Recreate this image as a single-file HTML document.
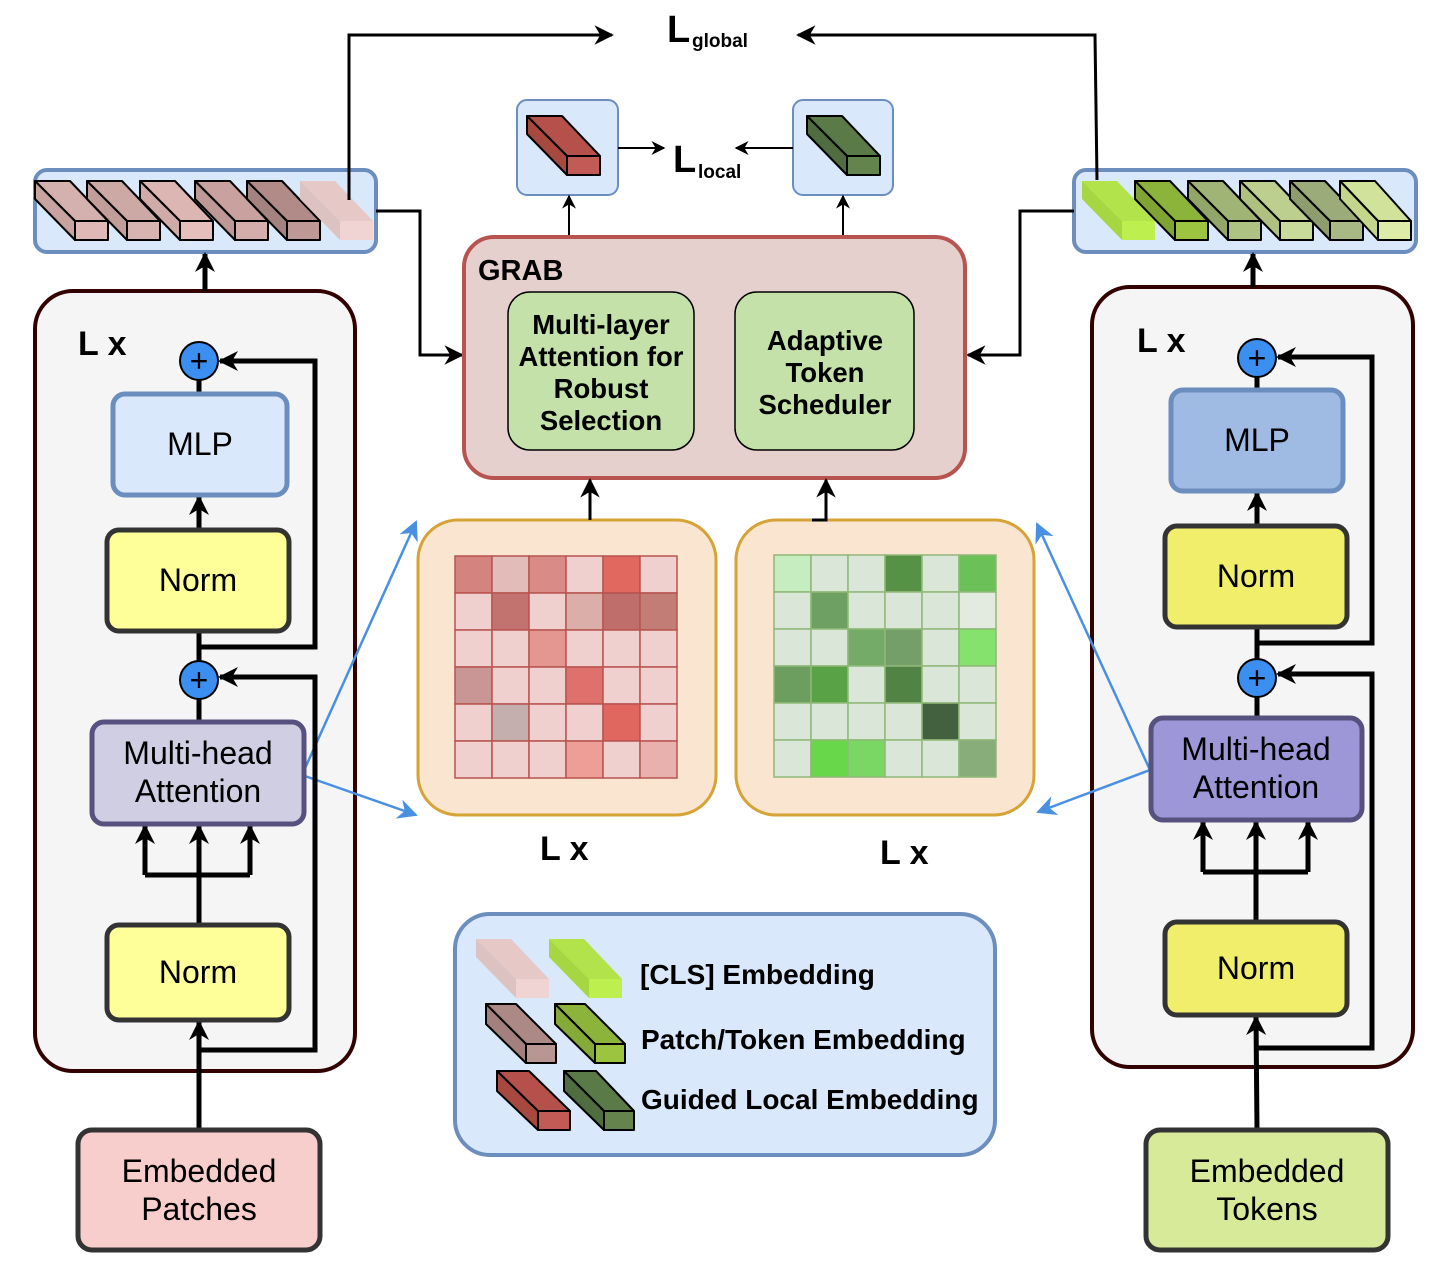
<!DOCTYPE html>
<html><head><meta charset="utf-8"><style>
html,body{margin:0;padding:0;background:#fff;}
svg{display:block;}
text{font-family:"Liberation Sans",sans-serif;}
</style></head><body>
<svg width="1450" height="1280" viewBox="0 0 1450 1280" xmlns="http://www.w3.org/2000/svg">
<defs>
<marker id="ah" viewBox="0 0 10 10" refX="9" refY="5" markerWidth="7" markerHeight="7" orient="auto-start-reverse" markerUnits="strokeWidth"><path d="M0,0 L10,5 L0,10 L3,5 z" fill="#000"/></marker>
<marker id="ah2" viewBox="0 0 10 10" refX="9" refY="5" markerWidth="4" markerHeight="4" orient="auto" markerUnits="strokeWidth"><path d="M0,0 L10,5 L0,10 L3,5 z" fill="#000"/></marker>
<marker id="ah3" viewBox="0 0 10 10" refX="9" refY="5" markerWidth="6.5" markerHeight="6.5" orient="auto" markerUnits="strokeWidth"><path d="M0,0 L10,5 L0,10 L3,5 z" fill="#000"/></marker>
<marker id="bh" viewBox="0 0 10 10" refX="9" refY="5" markerWidth="8" markerHeight="8" orient="auto" markerUnits="strokeWidth"><path d="M0,0 L10,5 L0,10 L3,5 z" fill="#4a90e2"/></marker>
</defs>

<!-- encoders containers -->
<rect x="35" y="291" width="320" height="780" rx="38" fill="#f5f5f5" stroke="#330000" stroke-width="4"/>
<rect x="1092" y="287" width="321" height="780" rx="38" fill="#f5f5f5" stroke="#330000" stroke-width="4"/>

<!-- left bar -->
<rect x="35" y="170" width="341" height="82" rx="12" fill="#dae8fc" stroke="#6c8ebf" stroke-width="4"/>
<g stroke="#000" stroke-width="2" stroke-linejoin="round">
<g transform="translate(35,181)"><polygon points="0,0 35,0 73,40 40,40" fill="#d4b0ae"/><polygon points="0,0 40,40 40,59 0,18" fill="#c9a3a0"/><rect x="40" y="40" width="33" height="19" fill="#e0b8b5"/></g>
<g transform="translate(87,181)"><polygon points="0,0 35,0 73,40 40,40" fill="#cda9a6"/><polygon points="0,0 40,40 40,59 0,18" fill="#c29e9b"/><rect x="40" y="40" width="33" height="19" fill="#d8b4b1"/></g>
<g transform="translate(140,181)"><polygon points="0,0 35,0 73,40 40,40" fill="#dcb6b3"/><polygon points="0,0 40,40 40,59 0,18" fill="#d0aba8"/><rect x="40" y="40" width="33" height="19" fill="#e5bfbc"/></g>
<g transform="translate(195,181)"><polygon points="0,0 35,0 73,40 40,40" fill="#c9a19e"/><polygon points="0,0 40,40 40,59 0,18" fill="#bd9895"/><rect x="40" y="40" width="33" height="19" fill="#d4aeab"/></g>
<g transform="translate(247,181)"><polygon points="0,0 35,0 73,40 40,40" fill="#b08b88"/><polygon points="0,0 40,40 40,59 0,18" fill="#a38280"/><rect x="40" y="40" width="33" height="19" fill="#bd9894"/></g>
</g>
<g transform="translate(300,181)"><polygon points="0,0 35,0 73,40 40,40" fill="#e6c8c7"/><polygon points="0,0 40,40 40,59 0,18" fill="#dcc3c2"/><rect x="40" y="40" width="33" height="19" fill="#f0d4d4"/></g>

<!-- right bar -->
<rect x="1074" y="170" width="342" height="82" rx="12" fill="#dae8fc" stroke="#6c8ebf" stroke-width="4"/>
<g transform="translate(1082,181)"><polygon points="0,0 35,0 73,40 40,40" fill="#b2e34a"/><polygon points="0,0 40,40 40,59 0,18" fill="#a6d641"/><rect x="40" y="40" width="33" height="19" fill="#bdf04e"/></g>
<g stroke="#000" stroke-width="2" stroke-linejoin="round">
<g transform="translate(1135,181)"><polygon points="0,0 35,0 73,40 40,40" fill="#8db43a"/><polygon points="0,0 40,40 40,59 0,18" fill="#7fa433"/><rect x="40" y="40" width="33" height="19" fill="#9cc440"/></g>
<g transform="translate(1188,181)"><polygon points="0,0 35,0 73,40 40,40" fill="#a0b475"/><polygon points="0,0 40,40 40,59 0,18" fill="#93a66a"/><rect x="40" y="40" width="33" height="19" fill="#aec283"/></g>
<g transform="translate(1240,181)"><polygon points="0,0 35,0 73,40 40,40" fill="#bccf8e"/><polygon points="0,0 40,40 40,59 0,18" fill="#aec180"/><rect x="40" y="40" width="33" height="19" fill="#c9db9b"/></g>
<g transform="translate(1290,181)"><polygon points="0,0 35,0 73,40 40,40" fill="#9bab79"/><polygon points="0,0 40,40 40,59 0,18" fill="#8d9d6d"/><rect x="40" y="40" width="33" height="19" fill="#a9b986"/></g>
<g transform="translate(1340,181)"><polygon points="0,0 35,0 71,40 38,40" fill="#d1e39a"/><polygon points="0,0 38,40 38,59 0,18" fill="#c4d68c"/><rect x="38" y="40" width="33" height="19" fill="#ddeda8"/></g>
</g>

<!-- Lglobal -->
<g fill="none" stroke="#000" stroke-width="3">
<polyline points="349,200 349,35 612,35" marker-end="url(#ah3)"/>
<polyline points="1097,180 1095,35 798,35" marker-end="url(#ah3)"/>
<polyline points="376,211 420,211 420,355 462,355" marker-end="url(#ah3)"/>
<polyline points="1074,211 1020,211 1020,355 968,355" marker-end="url(#ah3)"/>
</g>
<text x="667" y="42" font-size="38" font-weight="bold">L</text><text x="692" y="47" font-size="19" font-weight="bold">global</text>

<!-- top small boxes -->
<rect x="517" y="100" width="101" height="95" rx="10" fill="#dae8fc" stroke="#6c8ebf" stroke-width="2"/>
<rect x="793" y="100" width="100" height="95" rx="10" fill="#dae8fc" stroke="#6c8ebf" stroke-width="2"/>
<g stroke="#000" stroke-width="2" stroke-linejoin="round">
<g transform="translate(527,116)"><polygon points="0,0 35,0 73,40 40,40" fill="#b5504a"/><polygon points="0,0 40,40 40,59 0,18" fill="#a8493f"/><rect x="40" y="40" width="33" height="19" fill="#c25a55"/></g>
<g transform="translate(807,116)"><polygon points="0,0 35,0 73,40 40,40" fill="#5a7a48"/><polygon points="0,0 40,40 40,59 0,18" fill="#4f6d40"/><rect x="40" y="40" width="33" height="19" fill="#64844e"/></g>
</g>
<g fill="none" stroke="#000" stroke-width="2">
<line x1="618" y1="148" x2="664" y2="148" marker-end="url(#ah)"/>
<line x1="793" y1="148" x2="736" y2="148" marker-end="url(#ah)"/>
<line x1="569" y1="237" x2="569" y2="196" marker-end="url(#ah)"/>
<line x1="843" y1="237" x2="843" y2="196" marker-end="url(#ah)"/>
</g>
<text x="673" y="172" font-size="38" font-weight="bold">L</text><text x="698" y="178" font-size="19" font-weight="bold">local</text>

<!-- GRAB -->
<rect x="464" y="237" width="501" height="241" rx="30" fill="#e6d0ce" stroke="#b85450" stroke-width="4"/>
<text x="478" y="280" font-size="29" font-weight="bold">GRAB</text>
<rect x="508" y="292" width="186" height="158" rx="22" fill="#c3e1a8" stroke="#000" stroke-width="1.5"/>
<rect x="735" y="292" width="179" height="158" rx="22" fill="#c3e1a8" stroke="#000" stroke-width="1.5"/>
<g font-size="27.5" font-weight="bold" text-anchor="middle">
<text x="601" y="334">Multi-layer</text><text x="601" y="366">Attention for</text><text x="601" y="398">Robust</text><text x="601" y="430">Selection</text>
<text x="825" y="350">Adaptive</text><text x="825" y="382">Token</text><text x="825" y="414">Scheduler</text>
</g>

<!-- heatmap containers -->
<rect x="418" y="520" width="298" height="295" rx="40" fill="#fae5d0" stroke="#d6a336" stroke-width="3"/>
<rect x="736" y="520" width="298" height="295" rx="40" fill="#fae5d0" stroke="#d6a336" stroke-width="3"/>
<g fill="none" stroke="#000" stroke-width="3">
<line x1="590" y1="520" x2="590" y2="480" marker-end="url(#ah3)"/>
<polyline points="812,520 826,520 826,480" marker-end="url(#ah3)"/>
</g>
<g stroke="#b85450" stroke-width="1.5">
<rect x="455" y="556" width="37" height="37" fill="#d4837e"/><rect x="492" y="556" width="37" height="37" fill="#e2bcb9"/><rect x="529" y="556" width="37" height="37" fill="#d98c87"/><rect x="566" y="556" width="37" height="37" fill="#f0d0ce"/><rect x="603" y="556" width="37" height="37" fill="#e0685f"/><rect x="640" y="556" width="37" height="37" fill="#f0d0ce"/>
<rect x="455" y="593" width="37" height="37" fill="#f0d0ce"/><rect x="492" y="593" width="37" height="37" fill="#c27370"/><rect x="529" y="593" width="37" height="37" fill="#f0d0ce"/><rect x="566" y="593" width="37" height="37" fill="#dbaeaa"/><rect x="603" y="593" width="37" height="37" fill="#c06e6b"/><rect x="640" y="593" width="37" height="37" fill="#c27d77"/>
<rect x="455" y="630" width="37" height="37" fill="#f0d0ce"/><rect x="492" y="630" width="37" height="37" fill="#f0d0ce"/><rect x="529" y="630" width="37" height="37" fill="#e49791"/><rect x="566" y="630" width="37" height="37" fill="#f0d0ce"/><rect x="603" y="630" width="37" height="37" fill="#f0d0ce"/><rect x="640" y="630" width="37" height="37" fill="#f0d0ce"/>
<rect x="455" y="667" width="37" height="37" fill="#c99695"/><rect x="492" y="667" width="37" height="37" fill="#f0d0ce"/><rect x="529" y="667" width="37" height="37" fill="#f0d0ce"/><rect x="566" y="667" width="37" height="37" fill="#df716c"/><rect x="603" y="667" width="37" height="37" fill="#f0d0ce"/><rect x="640" y="667" width="37" height="37" fill="#f0d0ce"/>
<rect x="455" y="704" width="37" height="37" fill="#f0d0ce"/><rect x="492" y="704" width="37" height="37" fill="#c5afae"/><rect x="529" y="704" width="37" height="37" fill="#f0d0ce"/><rect x="566" y="704" width="37" height="37" fill="#f0d0ce"/><rect x="603" y="704" width="37" height="37" fill="#df675f"/><rect x="640" y="704" width="37" height="37" fill="#f0d0ce"/>
<rect x="455" y="741" width="37" height="37" fill="#f0d0ce"/><rect x="492" y="741" width="37" height="37" fill="#f0d0ce"/><rect x="529" y="741" width="37" height="37" fill="#f0d0ce"/><rect x="566" y="741" width="37" height="37" fill="#ed9f97"/><rect x="603" y="741" width="37" height="37" fill="#f0d0ce"/><rect x="640" y="741" width="37" height="37" fill="#e8b1ae"/>
</g>
<g stroke="#8fb878" stroke-width="1.5">
<rect x="774" y="555" width="37" height="37" fill="#c6edc0"/><rect x="811" y="555" width="37" height="37" fill="#d9e6d8"/><rect x="848" y="555" width="37" height="37" fill="#d9e6d8"/><rect x="885" y="555" width="37" height="37" fill="#559245"/><rect x="922" y="555" width="37" height="37" fill="#d9e6d8"/><rect x="959" y="555" width="37" height="37" fill="#6cc058"/>
<rect x="774" y="592" width="37" height="37" fill="#d9e6d8"/><rect x="811" y="592" width="37" height="37" fill="#6fa063"/><rect x="848" y="592" width="37" height="37" fill="#d9e6d8"/><rect x="885" y="592" width="37" height="37" fill="#d9e6d8"/><rect x="922" y="592" width="37" height="37" fill="#d9e6d8"/><rect x="959" y="592" width="37" height="37" fill="#e3ebe1"/>
<rect x="774" y="629" width="37" height="37" fill="#d9e6d8"/><rect x="811" y="629" width="37" height="37" fill="#d9e6d8"/><rect x="848" y="629" width="37" height="37" fill="#74ab68"/><rect x="885" y="629" width="37" height="37" fill="#749f69"/><rect x="922" y="629" width="37" height="37" fill="#d9e6d8"/><rect x="959" y="629" width="37" height="37" fill="#85e26c"/>
<rect x="774" y="666" width="37" height="37" fill="#6b9e5f"/><rect x="811" y="666" width="37" height="37" fill="#5aa246"/><rect x="848" y="666" width="37" height="37" fill="#d9e6d8"/><rect x="885" y="666" width="37" height="37" fill="#518444"/><rect x="922" y="666" width="37" height="37" fill="#d9e6d8"/><rect x="959" y="666" width="37" height="37" fill="#d9e6d8"/>
<rect x="774" y="703" width="37" height="37" fill="#d9e6d8"/><rect x="811" y="703" width="37" height="37" fill="#d9e6d8"/><rect x="848" y="703" width="37" height="37" fill="#d9e6d8"/><rect x="885" y="703" width="37" height="37" fill="#d9e6d8"/><rect x="922" y="703" width="37" height="37" fill="#43613e"/><rect x="959" y="703" width="37" height="37" fill="#d9e6d8"/>
<rect x="774" y="740" width="37" height="37" fill="#d9e6d8"/><rect x="811" y="740" width="37" height="37" fill="#68d74a"/><rect x="848" y="740" width="37" height="37" fill="#7bd763"/><rect x="885" y="740" width="37" height="37" fill="#d9e6d8"/><rect x="922" y="740" width="37" height="37" fill="#d9e6d8"/><rect x="959" y="740" width="37" height="37" fill="#88ad7b"/>
</g>
<text x="540" y="860" font-size="34" font-weight="bold">L x</text>
<text x="880" y="864" font-size="34" font-weight="bold">L x</text>

<!-- blue arrows -->
<g stroke="#4a90e2" stroke-width="2.5" fill="none">
<line x1="302" y1="775" x2="416" y2="815" marker-end="url(#bh)"/>
<line x1="302" y1="775" x2="416" y2="522" marker-end="url(#bh)"/>
<line x1="1150" y1="770" x2="1038" y2="812" marker-end="url(#bh)"/>
<line x1="1150" y1="770" x2="1037" y2="524" marker-end="url(#bh)"/>
</g>

<!-- LEFT encoder -->
<text x="78" y="355" font-size="34" font-weight="bold">L x</text>
<g fill="none" stroke="#000" stroke-width="5">
<line x1="199" y1="1130" x2="199" y2="1022" marker-end="url(#ah2)"/>
<polyline points="199,1050 315,1050 315,677 220,677" marker-end="url(#ah2)"/>
<line x1="199" y1="925" x2="199" y2="875"/>
<polyline points="145,875 250,875"/>
<line x1="145" y1="875" x2="145" y2="826" marker-end="url(#ah2)"/>
<line x1="199" y1="875" x2="199" y2="826" marker-end="url(#ah2)"/>
<line x1="250" y1="875" x2="250" y2="826" marker-end="url(#ah2)"/>
<line x1="199" y1="722" x2="199" y2="699"/>
<line x1="199" y1="661" x2="199" y2="631"/>
<polyline points="199,647 315,647 315,361 220,361" marker-end="url(#ah2)"/>
<line x1="199" y1="530" x2="199" y2="497" marker-end="url(#ah2)"/>
<line x1="199" y1="394" x2="199" y2="380"/>
<line x1="205" y1="291" x2="205" y2="254" marker-end="url(#ah2)"/>
</g>
<rect x="113" y="394" width="174" height="101" rx="12" fill="#dae8fc" stroke="#6c8ebf" stroke-width="5"/>
<rect x="107" y="530" width="182" height="101" rx="12" fill="#ffff99" stroke="#333" stroke-width="5"/>
<rect x="92" y="722" width="212" height="102" rx="12" fill="#d0cee2" stroke="#56517e" stroke-width="5"/>
<rect x="107" y="925" width="182" height="95" rx="12" fill="#ffff99" stroke="#333" stroke-width="5"/>
<rect x="78" y="1130" width="242" height="120" rx="14" fill="#f8cecc" stroke="#333" stroke-width="5"/>
<g stroke="#000" stroke-width="2"><circle cx="199" cy="361" r="19" fill="#3b8ff0"/><circle cx="199" cy="680" r="19" fill="#3b8ff0"/></g>
<g font-size="32" text-anchor="middle" fill="#000">
<text x="199" y="372">+</text><text x="199" y="691">+</text>
<text x="200" y="455">MLP</text><text x="198" y="591">Norm</text>
<text x="198" y="764">Multi-head</text><text x="198" y="802">Attention</text>
<text x="198" y="983">Norm</text>
<text x="199" y="1182">Embedded</text><text x="199" y="1220">Patches</text>
</g>

<!-- RIGHT encoder -->
<text x="1137" y="352" font-size="34" font-weight="bold">L x</text>
<g fill="none" stroke="#000" stroke-width="5">
<line x1="1257" y1="1130" x2="1256" y2="1017" marker-end="url(#ah2)"/>
<polyline points="1256,1048 1372,1048 1372,674 1278,674" marker-end="url(#ah2)"/>
<line x1="1256" y1="922" x2="1256" y2="872"/>
<polyline points="1203,872 1308,872"/>
<line x1="1203" y1="872" x2="1203" y2="822" marker-end="url(#ah2)"/>
<line x1="1256" y1="872" x2="1256" y2="822" marker-end="url(#ah2)"/>
<line x1="1308" y1="872" x2="1308" y2="822" marker-end="url(#ah2)"/>
<line x1="1257" y1="718" x2="1257" y2="697"/>
<line x1="1257" y1="659" x2="1257" y2="618"/>
<polyline points="1257,643 1372,643 1372,357 1278,357" marker-end="url(#ah2)"/>
<line x1="1257" y1="526" x2="1257" y2="493" marker-end="url(#ah2)"/>
<line x1="1257" y1="390" x2="1257" y2="377"/>
<line x1="1253" y1="287" x2="1253" y2="254" marker-end="url(#ah2)"/>
</g>
<rect x="1171" y="390" width="172" height="101" rx="12" fill="#9fbbe3" stroke="#6c8ebf" stroke-width="5"/>
<rect x="1165" y="526" width="182" height="101" rx="12" fill="#f0ee6a" stroke="#333" stroke-width="5"/>
<rect x="1151" y="718" width="211" height="102" rx="12" fill="#9d97d8" stroke="#56517e" stroke-width="5"/>
<rect x="1165" y="922" width="182" height="93" rx="12" fill="#f0ee6a" stroke="#333" stroke-width="5"/>
<rect x="1146" y="1130" width="242" height="120" rx="14" fill="#d7ea9a" stroke="#333" stroke-width="5"/>
<g stroke="#000" stroke-width="2"><circle cx="1257" cy="358" r="19" fill="#3b8ff0"/><circle cx="1257" cy="678" r="19" fill="#3b8ff0"/></g>
<g font-size="32" text-anchor="middle" fill="#000">
<text x="1257" y="369">+</text><text x="1257" y="689">+</text>
<text x="1257" y="451">MLP</text><text x="1256" y="587">Norm</text>
<text x="1256" y="760">Multi-head</text><text x="1256" y="798">Attention</text>
<text x="1256" y="979">Norm</text>
<text x="1267" y="1182">Embedded</text><text x="1267" y="1220">Tokens</text>
</g>

<!-- legend -->
<rect x="455" y="914" width="540" height="241" rx="35" fill="#dae8fc" stroke="#6c8ebf" stroke-width="4"/>
<g transform="translate(476,939)"><polygon points="0,0 35,0 73,40 40,40" fill="#e6c8c7"/><polygon points="0,0 40,40 40,59 0,18" fill="#dcc3c2"/><rect x="40" y="40" width="33" height="19" fill="#f0d4d4"/></g>
<g transform="translate(549,939)"><polygon points="0,0 35,0 73,40 40,40" fill="#b2e34a"/><polygon points="0,0 40,40 40,59 0,18" fill="#a6d641"/><rect x="40" y="40" width="33" height="19" fill="#bdf04e"/></g>
<g stroke="#000" stroke-width="2" stroke-linejoin="round">
<g transform="translate(486,1004)"><polygon points="0,0 30,0 70,40 40,40" fill="#ac8886"/><polygon points="0,0 40,40 40,59 0,20" fill="#a3807e"/><rect x="40" y="40" width="30" height="19" fill="#b89692"/></g>
<g transform="translate(555,1004)"><polygon points="0,0 30,0 70,40 40,40" fill="#8db43a"/><polygon points="0,0 40,40 40,59 0,20" fill="#84ab38"/><rect x="40" y="40" width="30" height="19" fill="#9cc440"/></g>
<g transform="translate(497,1071)"><polygon points="0,0 32,0 73,40 41,40" fill="#b5504a"/><polygon points="0,0 41,40 41,59 0,20" fill="#a8493f"/><rect x="41" y="40" width="32" height="19" fill="#c25a55"/></g>
<g transform="translate(564,1071)"><polygon points="0,0 32,0 70,40 40,40" fill="#5a7a48"/><polygon points="0,0 40,40 40,59 0,20" fill="#4f6d40"/><rect x="40" y="40" width="30" height="19" fill="#64844e"/></g>
</g>
<g font-size="28" font-weight="bold">
<text x="640" y="984">[CLS] Embedding</text>
<text x="641" y="1049">Patch/Token Embedding</text>
<text x="641" y="1109">Guided Local Embedding</text>
</g>
</svg>
</body></html>
